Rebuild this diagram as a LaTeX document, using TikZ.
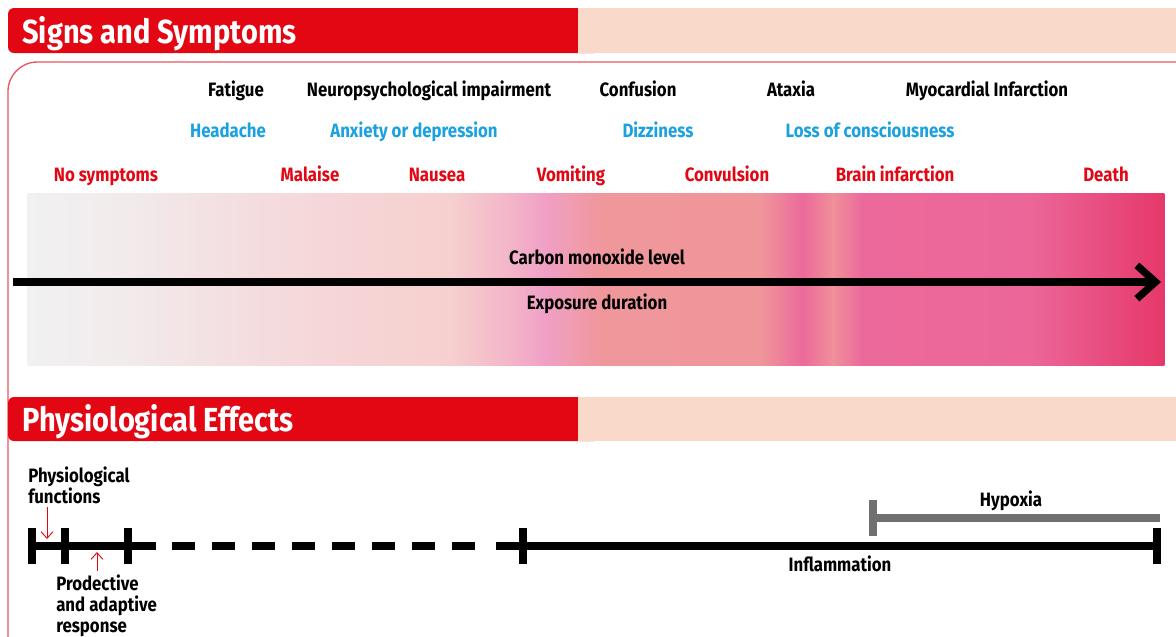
\documentclass[tikz,border=0pt]{standalone}
\usepackage{fontspec}
\setmainfont{Fira Sans}[FakeStretch=0.87]
\usetikzlibrary{arrows.meta}
\definecolor{hdrred}{HTML}{E30613}
\definecolor{peach}{HTML}{F9D9C9}
\definecolor{cyanlbl}{HTML}{1BA1DF}
\definecolor{redlbl}{HTML}{E30613}
\definecolor{graybar}{HTML}{707070}
\definecolor{outl}{HTML}{EC5560}
\definecolor{g0}{HTML}{F1F1F1}
\definecolor{g1}{HTML}{F2EBEC}
\definecolor{g2}{HTML}{F3E1E3}
\definecolor{g3}{HTML}{F6D5D7}
\definecolor{g4}{HTML}{F6D0CE}
\definecolor{g5}{HTML}{F3B5C8}
\definecolor{g6}{HTML}{F0A0C6}
\definecolor{g7}{HTML}{F0979C}
\definecolor{g8}{HTML}{F0969A}
\definecolor{g9}{HTML}{EC6A9B}
\definecolor{g10}{HTML}{F0909A}
\definecolor{g11}{HTML}{EC6699}
\definecolor{g12}{HTML}{E6386A}
\tikzset{
  lbl/.style={font=\bfseries\fontsize{14.5}{16}\selectfont, inner sep=0pt, anchor=base},
  blk/.style={lbl, text=black},
  cyn/.style={lbl, text=cyanlbl},
  rdl/.style={lbl, text=redlbl},
  multi/.style={font=\bfseries\fontsize{14.5}{15.5}\selectfont, inner sep=0pt, anchor=north west, align=left},
  hdrtext/.style={font=\bfseries\fontsize{25}{28}\selectfont, text=white, inner sep=0pt, anchor=base west},
  bigarrow/.style={line width=5.5pt, -{Straight Barb[length=14pt, width=25pt, line width=5.5pt]}},
  tl/.style={line width=5.8pt},
  ticks/.style={line width=5.8pt},
  graytl/.style={line width=5.5pt, graybar},
  redarr/.style={redlbl, line width=0.7pt, -{Straight Barb[length=5pt, width=9pt, line width=0.7pt]}},
  dashy/.style={dash pattern=on 17.25pt off 12.75pt}
}
\begin{document}
\begin{tikzpicture}[x=0.75pt, y=-0.75pt]
\useasboundingbox (0,0) rectangle (1176,636);
\fill[white] (0,0) rectangle (1176,636);
% outline
\draw[outl, line width=1pt, rounded corners=22pt] (1176,62) -- (8,62) -- (8,640);
% header 1
\fill[hdrred, rounded corners=4.5pt] (8,8) rectangle (600,53);
\fill[peach] (578,8) rectangle (1176,53);
\node[hdrtext] (h1) at (22,43) {Signs and Symptoms};
% header 2
\fill[hdrred, rounded corners=4.5pt] (8,397) rectangle (600,441);
\fill[peach] (578,397) rectangle (1176,441);
\node[hdrtext] (h2) at (22,431) {Physiological Effects};
% gradient band
\foreach \xa/\xb/\ca/\cb in {28/120/g0/g1, 120/210/g1/g2, 210/340/g2/g3, 340/450/g3/g4, 450/510/g4/g5, 510/545/g5/g6, 545/600/g6/g7, 600/760/g7/g8, 760/803/g8/g9, 803/833/g9/g10, 833/862/g10/g9, 862/1030/g9/g11, 1030/1164/g11/g12}
  \shade[left color=\ca, right color=\cb] (\xa-0.4,193) rectangle (\xb+0.4,365);
% labels row 1
\node[blk] (fat) at (236,96) {Fatigue};
\node[blk] (neu) at (429,96) {Neuropsychological impairment};
\node[blk] (con) at (638,96) {Confusion};
\node[blk] (ata) at (791,96) {Ataxia};
\node[blk] (myo) at (987,96) {Myocardial Infarction};
% row 2
\node[cyn] (hea) at (228,137) {Headache};
\node[cyn] (anx) at (414,137) {Anxiety or depression};
\node[cyn] (diz) at (658,137) {Dizziness};
\node[cyn] (los) at (870,137) {Loss of consciousness};
% row 3
\node[rdl] (nos) at (106,181) {No symptoms};
\node[rdl] (mal) at (310,181) {Malaise};
\node[rdl] (nau) at (437,181) {Nausea};
\node[rdl] (vom) at (571,181) {Vomiting};
\node[rdl] (cnv) at (727,181) {Convulsion};
\node[rdl] (bra) at (895,181) {Brain infarction};
\node[rdl] (dea) at (1106,181) {Death};
% main arrow
\node[blk] (col) at (597,264) {Carbon monoxide level};
\node[blk] (exd) at (597,309) {Exposure duration};
\coordinate (as) at (13,282);
\coordinate (ae) at (1161,282);
\draw[bigarrow] (as) -- (ae);
% timeline
\coordinate (t0) at (32,546);
\coordinate (t1) at (65,546);
\coordinate (t2) at (128,546);
\coordinate (td) at (156,546);
\coordinate (ds) at (172,546);
\coordinate (de) at (478,546);
\coordinate (ts) at (496,546);
\coordinate (t3) at (523,546);
\coordinate (t4) at (1157,546);
\draw[tl] (t0) -- (td);
\draw[tl, dashy] (ds) -- (de);
\draw[tl] (ts) -- (t4);
\foreach \t in {t0,t1,t2,t3,t4}
  \draw[ticks] (\t) ++(0,-18) -- ++(0,36);
\coordinate (hy0) at (873,518);
\coordinate (hy1) at (1160,518);
\draw[graytl] (hy0) -- (hy1);
\draw[graytl] (hy0) ++(0,-18) -- ++(0,36);
\node[blk] (hyp) at (1011,506) {Hypoxia};
\node[blk] (inf) at (840,571) {Inflammation};
% side labels
\node[multi] (phf) at (28,467) {Physiological\\functions};
\node[multi] (pra) at (56,575) {Prodective\\and adaptive\\response};
\coordinate (ra1) at (47,507);
\coordinate (ra2) at (47,539);
\draw[redarr] (ra1) -- (ra2);
\coordinate (rb1) at (97,571);
\coordinate (rb2) at (97,552);
\draw[redarr] (rb1) -- (rb2);
\end{tikzpicture}
\end{document}
